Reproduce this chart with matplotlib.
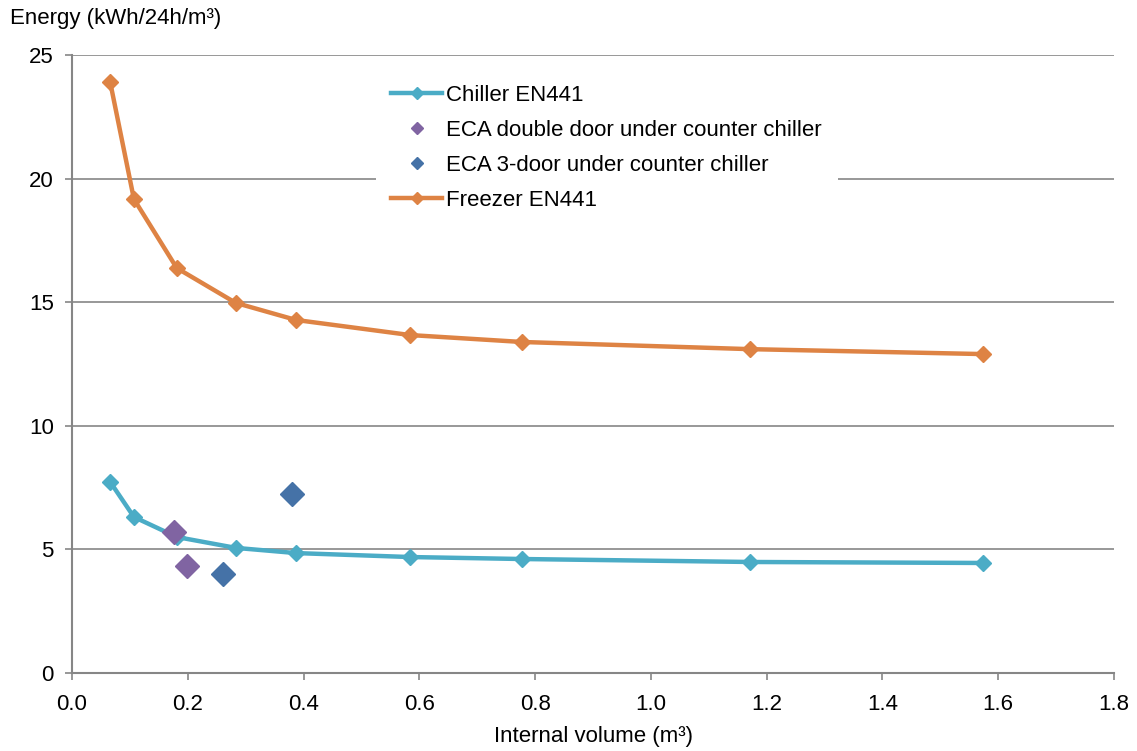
import matplotlib.pyplot as plt
from matplotlib.lines import Line2D

plt.rcParams['font.family'] = ['Liberation Sans', 'DejaVu Sans']

# Data
volume = [0.066, 0.107, 0.181, 0.283, 0.387, 0.584, 0.777, 1.171, 1.574]
chiller = [7.73, 6.31, 5.50, 5.06, 4.85, 4.69, 4.61, 4.49, 4.45]
freezer = [23.9, 19.17, 16.38, 14.97, 14.28, 13.67, 13.39, 13.10, 12.90]
eca_double_x = [0.176, 0.199]
eca_double_y = [5.70, 4.33]
eca_3door_x = [0.261, 0.380]
eca_3door_y = [4.00, 7.24]

grey = '#868686'
c_chill = '#4BACC6'
c_freez = '#DE8344'
c_dbl = '#8064A2'
c_3d = '#4572A7'

fig = plt.figure(figsize=(11.37, 7.51), dpi=100)
ax = fig.add_axes([0.0633, 0.1039, 0.9165, 0.8229])

ax.plot(volume, chiller, color=c_chill, lw=3.2, marker='D', ms=8.5, zorder=3)
ax.plot(eca_double_x, eca_double_y, ls='none', marker='D', ms=12,
        color=c_dbl, zorder=4)
ax.plot(eca_3door_x, eca_3door_y, ls='none', marker='D', ms=12,
        color=c_3d, zorder=4)
ax.plot(volume, freezer, color=c_freez, lw=3.2, marker='D', ms=8.5, zorder=3)

ax.set_xlim(0, 1.8)
ax.set_ylim(0, 25)
ax.set_xticks([i / 5 for i in range(10)])
ax.set_xticklabels(['%.1f' % (i / 5) for i in range(10)])
ax.set_yticks(range(0, 26, 5))

ax.yaxis.grid(True, color=grey, lw=1.2)
ax.set_axisbelow(True)
for s in ['top', 'right']:
    ax.spines[s].set_visible(False)
for s in ['left', 'bottom']:
    ax.spines[s].set_color(grey)
    ax.spines[s].set_linewidth(1.5)
ax.tick_params(axis='both', colors=grey, labelcolor='black', labelsize=16,
               length=5, width=1.2)
ax.tick_params(axis='x', pad=10)
ax.tick_params(axis='y', pad=8)

ax.set_xlabel('Internal volume (m³)', fontsize=16, labelpad=8)
fig.text(0.009, 0.976, 'Energy (kWh/24h/m³)', fontsize=16, va='center')

handles = [
    Line2D([], [], color=c_chill, lw=3.2, marker='D', ms=6),
    Line2D([], [], color=c_dbl, ls='none', marker='D', ms=6.5),
    Line2D([], [], color=c_3d, ls='none', marker='D', ms=6.5),
    Line2D([], [], color=c_freez, lw=3.2, marker='D', ms=6),
]
labels = ['Chiller EN441', 'ECA double door under counter chiller',
          'ECA 3-door under counter chiller', 'Freezer EN441']
leg = ax.legend(handles, labels, loc='upper left', bbox_to_anchor=(0.30, 0.962),
                frameon=True, fontsize=16, handlelength=2.3,
                handletextpad=0.18, labelspacing=0.63, borderaxespad=0,
                borderpad=0.3)
leg.get_frame().set_edgecolor('none')
leg.get_frame().set_facecolor('white')
leg.get_frame().set_alpha(1)
leg.get_frame().set_boxstyle('square', pad=0.4)

fig.savefig('out.png', dpi=100)
